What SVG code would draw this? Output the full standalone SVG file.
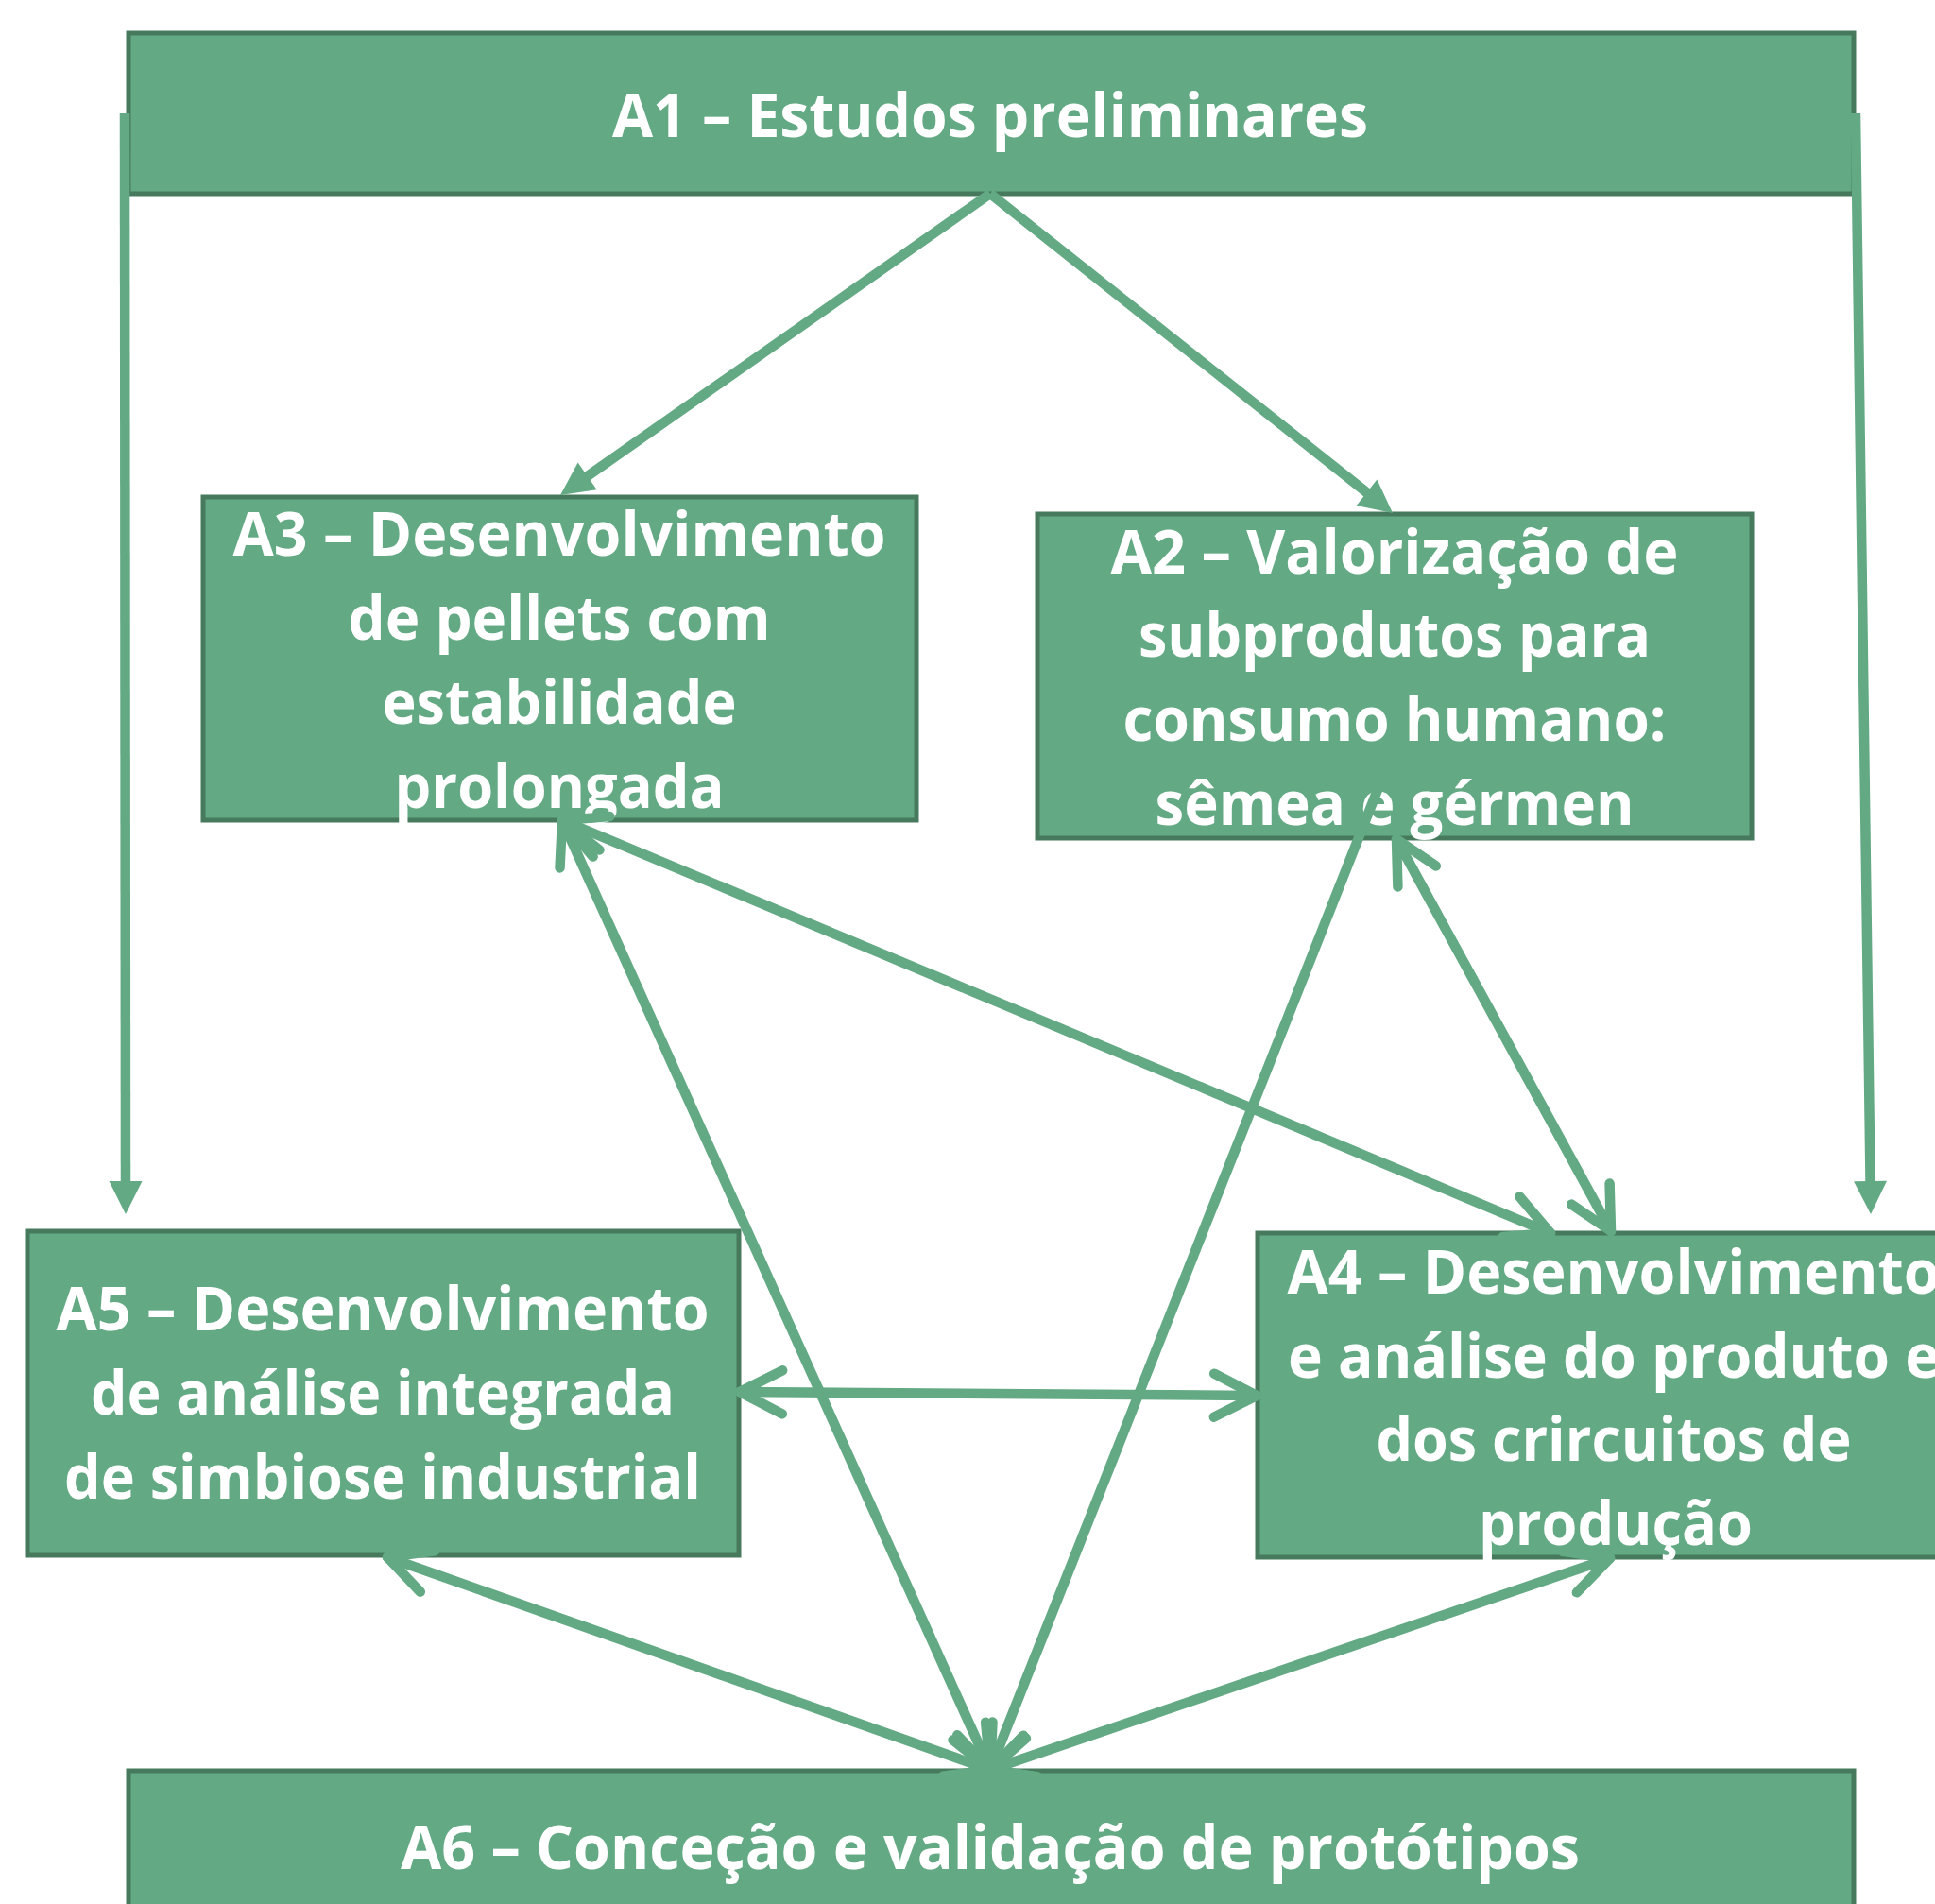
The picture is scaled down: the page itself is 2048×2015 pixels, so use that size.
<svg xmlns="http://www.w3.org/2000/svg" width="2048" height="2015" viewBox="0 0 2048 2015">
<style>
.box{fill:#62a984;stroke:#477a5c;stroke-width:5}
.t{fill:#ffffff;font-family:"Open Sans","Noto Sans","Liberation Sans",sans-serif;font-weight:bold;font-size:64px;text-anchor:middle}
.c{fill:none;stroke:#62a984;stroke-width:10.5}
.d{stroke-linecap:round;marker-start:url(#chev);marker-end:url(#chev)}
.s{stroke-linecap:butt;marker-end:url(#tri)}
.e{stroke-linecap:round;marker-end:url(#chev)}
</style>
<defs>
<marker id="tri" markerUnits="userSpaceOnUse" markerWidth="10" markerHeight="10" refX="0" refY="0" orient="auto" overflow="visible">
<path d="M -5 -17.5 L 30 0 L -5 17.5 Z" fill="#62a984"/>
</marker>
<marker id="chev" markerUnits="userSpaceOnUse" markerWidth="10" markerHeight="10" refX="0" refY="0" orient="auto-start-reverse" overflow="visible">
<path d="M -45 -23 L 0 0 L -45 23" fill="none" stroke="#62a984" stroke-width="10.5" stroke-linecap="round" stroke-linejoin="round"/>
</marker>
</defs>
<rect width="2048" height="2015" fill="#ffffff"/>
<g id="A1">
<rect class="box" x="136" y="35" width="1826" height="170"/>
<text class="t" x="1048" y="145" textLength="800" lengthAdjust="spacingAndGlyphs">A1 – Estudos preliminares</text>
</g>
<g id="A3">
<rect class="box" x="215" y="526" width="755" height="342"/>
<text class="t" x="592" y="588" textLength="691" lengthAdjust="spacingAndGlyphs">A3 – Desenvolvimento</text>
<text class="t" x="592" y="677" textLength="447" lengthAdjust="spacingAndGlyphs">de pellets com</text>
<text class="t" x="592" y="766" textLength="375" lengthAdjust="spacingAndGlyphs">estabilidade</text>
<text class="t" x="592" y="855" textLength="349" lengthAdjust="spacingAndGlyphs">prolongada</text>
</g>
<g id="A2">
<rect class="box" x="1098" y="544" width="756" height="343"/>
<text class="t" x="1476" y="607" textLength="601" lengthAdjust="spacingAndGlyphs">A2 – Valorização de</text>
<text class="t" x="1476" y="695" textLength="542" lengthAdjust="spacingAndGlyphs">subprodutos para</text>
<text class="t" x="1476" y="784" textLength="575" lengthAdjust="spacingAndGlyphs">consumo humano:</text>
<text class="t" x="1476" y="873" textLength="507" lengthAdjust="spacingAndGlyphs">sêmea e gérmen</text>
</g>
<g id="A5">
<rect class="box" x="29" y="1303" width="753" height="343"/>
<text class="t" x="405" y="1408" textLength="691" lengthAdjust="spacingAndGlyphs">A5 – Desenvolvimento</text>
<text class="t" x="405" y="1497" textLength="618" lengthAdjust="spacingAndGlyphs">de análise integrada</text>
<text class="t" x="405" y="1586" textLength="674" lengthAdjust="spacingAndGlyphs">de simbiose industrial</text>
</g>
<g id="A4">
<rect class="box" x="1331" y="1305" width="754" height="343"/>
<text class="t" x="1708" y="1369" textLength="691" lengthAdjust="spacingAndGlyphs">A4 – Desenvolvimento</text>
<text class="t" x="1708" y="1458" textLength="690" lengthAdjust="spacingAndGlyphs">e análise do produto e</text>
<text class="t" x="1708" y="1546" textLength="503" lengthAdjust="spacingAndGlyphs">dos crircuitos de</text>
<text class="t" x="1710" y="1635" textLength="290" lengthAdjust="spacingAndGlyphs">produção</text>
</g>
<g id="A6">
<rect class="box" x="136" y="1874" width="1826" height="170"/>
<text class="t" x="1048" y="1978" textLength="1248" lengthAdjust="spacingAndGlyphs">A6 – Conceção e validação de protótipos</text>
</g>
<g id="connectors">
<line class="c s" x1="1048" y1="205" x2="617.6" y2="506.8"/>
<line class="c s" x1="1048" y1="205" x2="1450.5" y2="524.3"/>
<line class="c s" x1="132" y1="120" x2="133" y2="1255"/>
<line class="c s" x1="1964" y1="120" x2="1979.6" y2="1255"/>
<line class="c d" x1="595" y1="868" x2="1048" y2="1873"/>
<line class="c d" x1="595" y1="868" x2="1641" y2="1305"/>
<line class="c d" x1="1478" y1="888" x2="1705" y2="1303"/>
<line class="c e" x1="1475" y1="793" x2="1048" y2="1873"/>
<line class="c d" x1="410" y1="1648" x2="1048" y2="1873"/>
<line class="c d" x1="1704" y1="1649" x2="1048" y2="1873"/>
<line class="c d" x1="783" y1="1473" x2="1330" y2="1477"/>
</g>
</svg>
